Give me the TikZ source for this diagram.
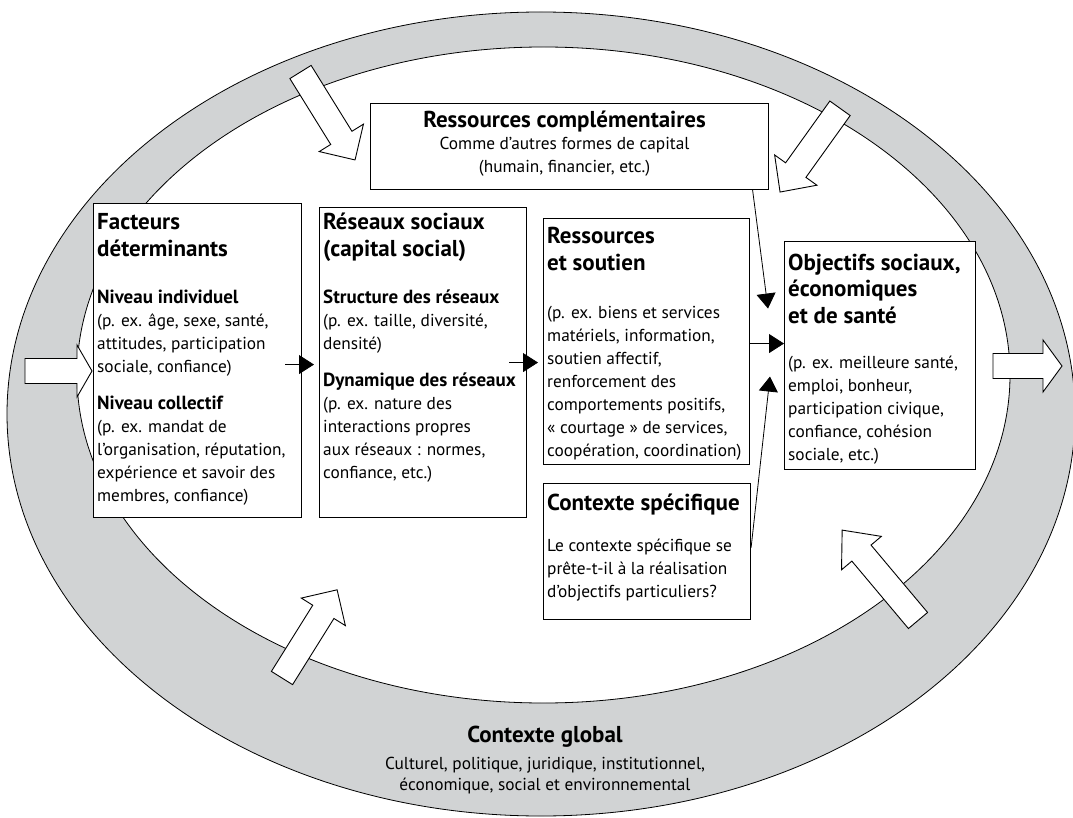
\documentclass[tikz,border=0pt]{standalone}
\usepackage{fontspec}
\setmainfont{PT Sans}
\usepackage{tikz}
\usetikzlibrary{arrows.meta, calc}
\definecolor{ringgray}{RGB}{209,211,212}
\tikzstyle{panel} = [draw, line width=1.1pt, fill=white, anchor=north west, inner sep=0pt]
\tikzstyle{link} = [line width=0.8pt, -{Triangle[length=15pt,width=19pt]}]
\tikzstyle{hollow} = [draw, line width=0.9pt, fill=white, line join=miter]

\newcommand{\hd}{\fontsize{23}{26.5}\selectfont\bfseries}
\newcommand{\bd}{\normalfont\fontsize{17.3}{23}\selectfont}
\newcommand{\sbd}{\fontsize{19}{23}\selectfont\bfseries}
% x, y, angle, length, head length
\newcommand{\bigarrow}[5]{%
  \draw[hollow, shift={(#1,#2)}, rotate=#3]
    (0,-12.5) -- (#4-#5,-12.5) -- (#4-#5,-26) -- (#4,0) -- (#4-#5,26) -- (#4-#5,12.5) -- (0,12.5) -- cycle;}

\begin{document}
\begin{tikzpicture}[x=1pt, y=1pt,
    txt/.style={anchor=base west, inner sep=0pt},
]
    \fill[white] (0,0) rectangle (1073,-818);
    \useasboundingbox (0,0) rectangle (1073,-818);

    % Contexte global
    \fill[ringgray, even odd rule] (541,-414) ellipse [x radius=534, y radius=402]
        (543.5,-375) ellipse [x radius=466.5, y radius=328];
    \draw[line width=0.8pt] (541,-414) ellipse [x radius=534, y radius=402];
    \draw[line width=0.8pt] (543.5,-375) ellipse [x radius=466.5, y radius=328];

    % Big arrows
    \bigarrow{300.5}{-72}{-58.2}{103.5}{26}
    \bigarrow{840}{-108.3}{-125.6}{103}{27}
    \bigarrow{25}{-371}{0}{67}{15}
    \bigarrow{993}{-366}{0}{69}{19}
    \bigarrow{282}{-678}{58}{104}{26}
    \bigarrow{918}{-620.5}{130}{118}{30}

    % Boxes
    \node[panel, minimum width=398, minimum height=86] (comp) at (370,-103) {};
    \node[panel, minimum width=208, minimum height=314] (facteurs) at (93,-203) {};
    \node[panel, minimum width=207, minimum height=310] (reseaux) at (319,-207) {};
    \node[panel, minimum width=206, minimum height=246] (soutien) at (543,-218) {};
    \node[panel, minimum width=207, minimum height=136] (specifique) at (543,-483) {};
    \node[panel, minimum width=191, minimum height=228] (objectifs) at (784,-241) {};

    % Texts
    \node[anchor=base] (comp-t) at ([shift={(-5,-25)}]comp.north) {\parbox[t]{390pt}{\centering
        \hd Ressources complémentaires\par
        \vspace{-1pt}\bd Comme d’autres formes de capital\\(humain, financier, etc.)}};
    \node[txt] (facteurs-t) at ([shift={(4,-27)}]facteurs.north west) {\parbox[t]{250pt}{%
        \hd Facteurs\\déterminants\par
        \vspace{24pt}\sbd Niveau individuel\par
        \bd (p. ex. âge, sexe, santé,\\attitudes, participation\\sociale, confiance)\par
        \vspace{14pt}\sbd Niveau collectif\par
        \bd (p. ex. mandat de\\l’organisation, réputation,\\expérience et savoir des\\membres, confiance)}};
    \node[txt] (reseaux-t) at ([shift={(4,-23)}]reseaux.north west) {\parbox[t]{250pt}{%
        \hd Réseaux sociaux\\(capital social)\par
        \vspace{24pt}\sbd Structure des réseaux\par
        \bd (p. ex. taille, diversité,\\densité)\par
        \vspace{14pt}\sbd Dynamique des réseaux\par
        \bd (p. ex. nature des\\interactions propres\\aux réseaux : normes,\\confiance, etc.)}};
    \node[txt] (soutien-t) at ([shift={(4,-26)}]soutien.north west) {\parbox[t]{250pt}{%
        \hd Ressources\\et soutien\par
        \vspace{25pt}\bd (p. ex. biens et services\\matériels, information,\\soutien affectif,\\renforcement des\\comportements positifs,\\«~courtage~» de services,\\coopération, coordination)}};
    \node[txt] (specifique-t) at ([shift={(4,-27)}]specifique.north west) {\parbox[t]{250pt}{%
        \hd Contexte spécifique\par
        \vspace{18pt}\bd Le contexte spécifique se\\prête-t-il à la réalisation\\d’objectifs particuliers?}};
    \node[txt] (objectifs-t) at ([shift={(4,-29)}]objectifs.north west) {\parbox[t]{250pt}{%
        \hd Objectifs sociaux,\\économiques\\et de santé\par
        \vspace{22pt}\bd (p. ex. meilleure santé,\\emploi, bonheur,\\participation civique,\\confiance, cohésion\\sociale, etc.)}};
    \node[anchor=base] (global) at (545,-742) {\parbox[t]{400pt}{\centering
        \hd Contexte global\par
        \vspace{6pt}\bd\setlength{\baselineskip}{21pt}Culturel, politique, juridique, institutionnel,\\économique, social et environnemental}};

    % Connections
    \draw[link] ([shift={(-17,-4)}]facteurs.east) -- ([shift={(-5,-2)}]reseaux.west);
    \draw[link] ([xshift=-18]reseaux.east) -- ([shift={(-5,-21)}]soutien.west);
    \draw[link] ([yshift=-2]soutien.east) -- ([yshift=12]objectifs.west);
    \draw[link] ([xshift=-16.5]comp.south east) -- ([shift={(-16,47)}]objectifs.west);
    \draw[link] ([yshift=4]specifique.east) -- ([shift={(-14,-21)}]objectifs.west);
\end{tikzpicture}
\end{document}
